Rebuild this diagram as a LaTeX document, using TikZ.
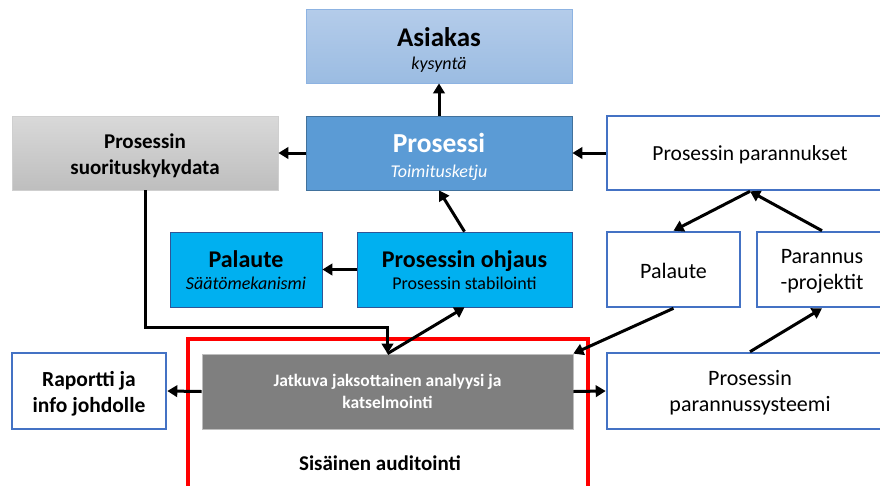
\documentclass[tikz,border=0pt]{standalone}
\usepackage{fontspec}
\setmainfont{Carlito}
\usetikzlibrary{arrows.meta,calc}

\definecolor{skyA}{HTML}{B4CCEA}
\definecolor{skyB}{HTML}{9BBCE2}
\definecolor{skyEdge}{HTML}{8DB3E2}
\definecolor{procFill}{HTML}{5B9BD5}
\definecolor{procEdge}{HTML}{41719C}
\definecolor{greyA}{HTML}{D9D9D9}
\definecolor{greyB}{HTML}{BEBEBE}
\definecolor{greyEdge}{HTML}{CFCFCF}
\definecolor{cyanFill}{HTML}{00B0F0}
\definecolor{cyanEdge}{HTML}{2F5597}
\definecolor{frameBlue}{HTML}{4472C4}
\definecolor{darkGrey}{HTML}{7F7F7F}
\definecolor{auditRed}{HTML}{FF0000}

\tikzset{
  box/.style={rectangle, inner sep=0pt},
  outlinebox/.style={box, draw=frameBlue, line width=2.6pt, fill=white},
  cyanbox/.style={box, draw=cyanEdge, line width=0.8pt, fill=cyanFill},
  txt/.style={inner sep=0pt, align=center},
  arr/.style={line width=3pt, -{Triangle[length=10pt,width=11.5pt]}},
}

\begin{document}
\begin{tikzpicture}[x=1pt,y=-1pt]
\useasboundingbox (0,0) rectangle (880,485);

% internal audit frame
\draw[auditRed, line width=3.6pt] (188,500) -- (188,339) -- (588,339) -- (588,500);

% ---- boxes ----
\node[box, draw=skyEdge, line width=0.8pt, top color=skyA, bottom color=skyB,
      minimum width=266pt, minimum height=74pt] (asiakas) at (439,46) {};
\node[box, draw=procEdge, line width=0.8pt, fill=procFill,
      minimum width=266pt, minimum height=74pt] (prosessi) at (439,153) {};
\node[box, draw=greyEdge, line width=0.8pt, top color=greyA, bottom color=greyB,
      minimum width=266pt, minimum height=74pt] (sdata) at (145,153) {};
\node[outlinebox, minimum width=286pt, minimum height=74pt] (parannukset) at (750,153) {};

\node[cyanbox, minimum width=152pt, minimum height=75pt] (palaute) at (246,269.5) {};
\node[cyanbox, minimum width=215pt, minimum height=75pt] (ohjaus) at (464.5,269.5) {};
\node[outlinebox, minimum width=133pt, minimum height=75pt] (palaute2) at (673.5,269.5) {};
\node[outlinebox, minimum width=130pt, minimum height=75pt] (projektit) at (822,269.5) {};

\node[outlinebox, minimum width=154pt, minimum height=76pt] (raportti) at (89,391) {};
\node[box, draw=greyB, line width=0.8pt, fill=darkGrey,
      minimum width=371pt, minimum height=75pt] (jatkuva) at (387.5,391.5) {};
\node[outlinebox, minimum width=286pt, minimum height=76pt] (systeemi) at (750,391) {};

% ---- texts ----
\node[txt, font=\fontsize{18}{23}\selectfont] (asiakas-t) at ([yshift=-4pt]asiakas.center)
  {{\fontsize{27}{28}\selectfont\bfseries Asiakas}\\{\itshape kysyntä}};
\node[txt, text=white, font=\fontsize{18}{25}\selectfont] (prosessi-t) at ([yshift=-3.5pt]prosessi.center)
  {{\fontsize{27.5}{28}\selectfont\bfseries Prosessi}\\{\itshape Toimitusketju}};
\node[txt, font=\fontsize{21}{26}\selectfont\bfseries] (sdata-t) at ([yshift=-3pt]sdata.center)
  {Prosessin\\suorituskykydata};
\node[txt, font=\fontsize{21.5}{24}\selectfont] (parannukset-t) at ([yshift=-2pt]parannukset.center)
  {Prosessin parannukset};

\node[txt, font=\fontsize{18}{22}\selectfont] (palaute-t) at ([yshift=-1pt]palaute.center)
  {{\fontsize{24}{26}\selectfont\bfseries Palaute}\\{\itshape Säätömekanismi}};
\node[txt, font=\fontsize{18}{22}\selectfont] (ohjaus-t) at ([yshift=-1pt]ohjaus.center)
  {{\fontsize{24}{26}\selectfont\bfseries Prosessin ohjaus}\\Prosessin stabilointi};
\node[txt, font=\fontsize{22}{24}\selectfont] (palaute2-t) at ([yshift=-1pt]palaute2.center)
  {Palaute};
\node[txt, font=\fontsize{22}{26}\selectfont] (projektit-t) at ([yshift=-2pt]projektit.center)
  {Parannus\\-projektit};

\node[txt, font=\fontsize{21.5}{26}\selectfont\bfseries] (raportti-t) at ([yshift=-3pt]raportti.center)
  {Raportti ja\\info johdolle};
\node[txt, text=white, font=\fontsize{17.5}{22}\selectfont\bfseries] (jatkuva-t) at (jatkuva.center)
  {Jatkuva jaksottainen analyysi ja\\katselmointi};
\node[txt, font=\fontsize{22}{26}\selectfont] (systeemi-t) at ([yshift=-2pt]systeemi.center)
  {Prosessin\\parannussysteemi};

\node[txt, font=\fontsize{21}{24}\selectfont\bfseries] (audit) at (380,463) {Sisäinen auditointi};

% ---- connectors ----
\draw[arr] (prosessi.north) -- (asiakas.south);
\draw[arr] (prosessi.west) -- (sdata.east);
\draw[arr] (parannukset.west) -- (prosessi.east);
\draw[arr] (ohjaus.north) -- (prosessi.south);
\draw[arr] (ohjaus.west) -- (palaute.east);
\draw[arr] (parannukset.south) -- (palaute2.north);
\draw[arr] (projektit.north) -- (parannukset.south);
\draw[arr] (sdata.south) |- (387.5,327) -- (jatkuva.north);
\draw[arr] (jatkuva.north) -- (ohjaus.south);
\draw[arr] (palaute2.south) -- (jatkuva.north east);
\draw[arr] (systeemi.north) -- (projektit.south);
\draw[arr] (jatkuva.west) -- (raportti.east);
\draw[arr] (jatkuva.east) -- (systeemi.west);
\end{tikzpicture}
\end{document}
